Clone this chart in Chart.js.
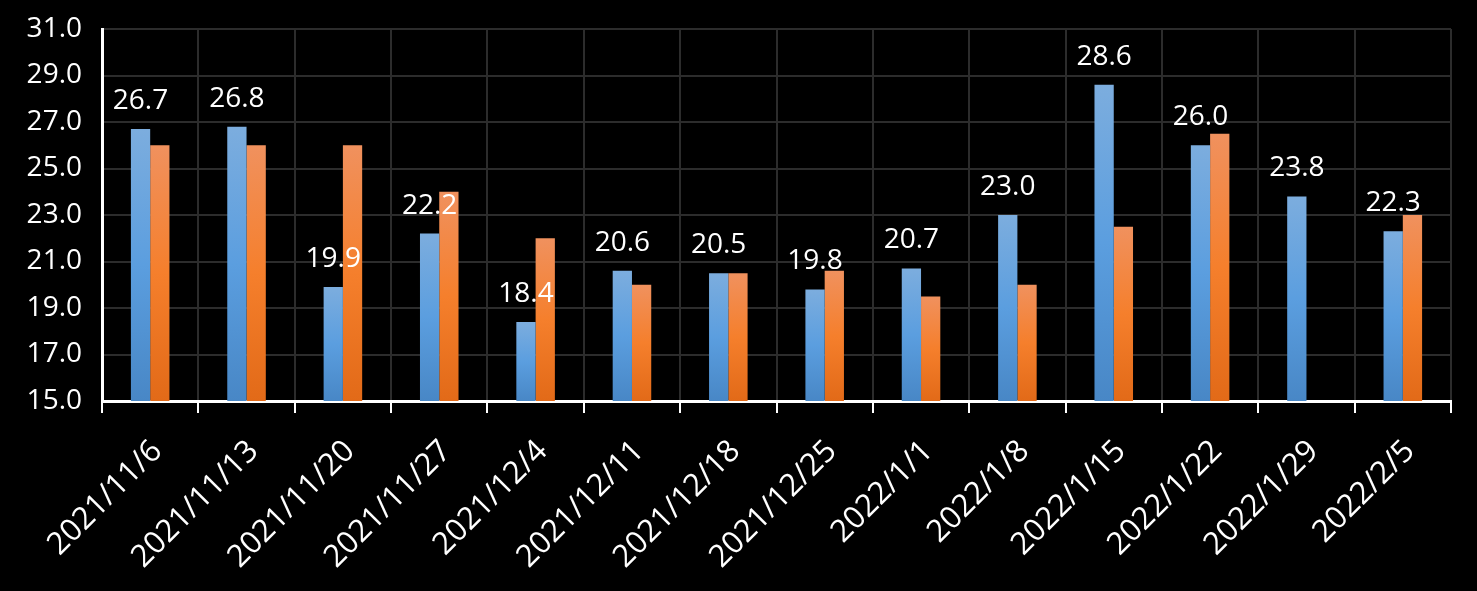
<!DOCTYPE html>
<html>
<head>
<meta charset="utf-8">
<script src="https://cdn.jsdelivr.net/npm/chart.js@4"></script>
<style>
  html, body { margin: 0; padding: 0; background: #000; }
  #wrap { width: 1477px; height: 591px; }
</style>
</head>
<body>
<div id="wrap"><canvas id="chart" width="1477" height="591"></canvas></div>
<script>
// weekly dates on the x axis
const weeks = ["2021/11/6", "2021/11/13", "2021/11/20", "2021/11/27", "2021/12/4", "2021/12/11",
  "2021/12/18", "2021/12/25", "2022/1/1", "2022/1/8", "2022/1/15", "2022/1/22", "2022/1/29", "2022/2/5"];
// blue series (labelled) and orange series
const blueValues = [26.7, 26.8, 19.9, 22.2, 18.4, 20.6, 20.5, 19.8, 20.7, 23.0, 28.6, 26.0, 23.8, 22.3];
const orangeValues = [26.0, 26.0, 26.0, 24.0, 22.0, 20.0, 20.5, 20.6, 19.5, 20.0, 22.5, 26.5, null, 23.0];
const yMin = 15, yMax = 31, yStep = 2;

const FONT = '"Open Sans", "Noto Sans", sans-serif';

// per-bar vertical gradient, light at the top of each bar
function barGradient(stops) {
  return (ctx) => {
    const chart = ctx.chart;
    const area = chart.chartArea;
    if (!area || ctx.raw == null) return stops[1];
    const top = chart.scales.y.getPixelForValue(ctx.raw);
    const g = chart.ctx.createLinearGradient(0, top, 0, area.bottom);
    g.addColorStop(0, stops[0]);
    g.addColorStop(0.5, stops[1]);
    g.addColorStop(1, stops[2]);
    return g;
  };
}

// value labels above the blue bars
const valueLabels = {
  id: "valueLabels",
  afterDatasetsDraw(chart) {
    const c = chart.ctx;
    const meta = chart.getDatasetMeta(0);
    c.save();
    c.font = "28px " + FONT;
    c.fillStyle = "#fff";
    c.textAlign = "center";
    c.textBaseline = "alphabetic";
    meta.data.forEach((bar, i) => {
      c.fillText(blueValues[i].toFixed(1), bar.x, bar.y - 20);
    });
    c.restore();
  }
};

new Chart(document.getElementById("chart"), {
  type: "bar",
  data: {
    labels: weeks,
    datasets: [
      {
        data: blueValues,
        backgroundColor: barGradient(["#7cadde", "#5b9edf", "#4887c6"]),
        categoryPercentage: 0.4,
        barPercentage: 1
      },
      {
        data: orangeValues,
        backgroundColor: barGradient(["#f0915e", "#f57f2c", "#e26a18"]),
        categoryPercentage: 0.4,
        barPercentage: 1
      }
    ]
  },
  options: {
    responsive: false,
    animation: false,
    layout: { padding: { left: 0, right: 26, top: 29, bottom: 0 } },
    plugins: { legend: { display: false }, tooltip: { enabled: false } },
    scales: {
      x: {
        grid: { color: "#2c2c2c", lineWidth: 2, tickColor: "#fff", tickLength: 12, tickWidth: 2 },
        border: { color: "#fff", width: 3 },
        ticks: {
          color: "#fff", font: { family: FONT, size: 31 },
          maxRotation: 45, minRotation: 45, autoSkip: false, padding: 20, labelOffset: 7
        },
        afterFit: (s) => { s.height = 190; }
      },
      y: {
        min: yMin, max: yMax,
        grid: { color: "#2c2c2c", lineWidth: 2, drawTicks: false },
        border: { color: "#fff", width: 3 },
        ticks: {
          stepSize: yStep, color: "#fff", padding: 20,
          font: { family: FONT, size: 28 },
          callback: (v) => v.toFixed(1)
        },
        afterFit: (s) => { s.width = 102; s.paddingTop = 0; s.paddingBottom = 0; }
      }
    }
  },
  plugins: [valueLabels]
});
</script>
</body>
</html>
